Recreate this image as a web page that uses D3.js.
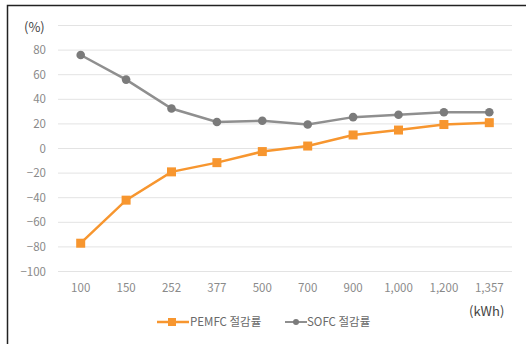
<!DOCTYPE html>
<html>
<head>
<meta charset="utf-8">
<script src="https://cdn.jsdelivr.net/npm/d3@7"></script>
<style>
  html, body { margin: 0; padding: 0; background: #fff; }
  svg { display: block; }
</style>
</head>
<body>
<script>
// Energy use categories (kWh) and saving rates (%) per fuel cell type
const categories = ["100", "150", "252", "377", "500", "700", "900", "1,000", "1,200", "1,357"];
const pemfcValues = [-77, -42, -19, -11.5, -2.5, 2, 11, 15, 19.5, 21];
const sofcValues = [76, 56, 32.5, 21.5, 22.5, 19.5, 25.5, 27.5, 29.5, 29.5];
const yTicks = [80, 60, 40, 20, 0, -20, -40, -60, -80, -100];
const seriesNames = ["PEMFC 절감률", "SOFC 절감률"];

const W = 526, H = 344;
const svg = d3.select("body").append("svg").attr("width", W).attr("height", H);
const font = "'Noto Sans CJK KR', 'Noto Sans', sans-serif";

// frame
svg.append("rect").attr("x", 7.5).attr("y", 5.5).attr("width", 540).attr("height", 360)
  .attr("fill", "none").attr("stroke", "#222").attr("stroke-width", 1.5);

const x = d3.scaleBand().domain(categories).range([58, 512]);
const y = d3.scaleLinear().domain([-100, 100]).range([271.5, 25.5]);

// horizontal grid
svg.append("g").selectAll("line").data(d3.range(-100, 101, 20)).join("line")
  .attr("x1", 58).attr("x2", 512)
  .attr("y1", d => y(d)).attr("y2", d => y(d))
  .attr("stroke", "#e3e3e3").attr("stroke-width", 1);

// y axis labels
const yAxis = d3.axisLeft(y).tickValues(yTicks).tickSize(0).tickPadding(0);
const gy = svg.append("g").attr("transform", "translate(46,0)").call(yAxis);
gy.select(".domain").remove();
gy.selectAll("text").attr("font-family", font).attr("font-size", 11.5).attr("fill", "#8a8a8a");

// x axis labels
const xAxis = d3.axisBottom(x).tickSize(0).tickPadding(0);
const gx = svg.append("g").attr("transform", "translate(0,284)").call(xAxis);
gx.select(".domain").remove();
gx.selectAll("text").attr("font-family", font).attr("font-size", 11.5).attr("fill", "#8a8a8a");

// unit labels
svg.append("text").attr("x", 24).attr("y", 32).text("(%)")
  .attr("font-family", font).attr("font-size", 13).attr("fill", "#444");
svg.append("text").attr("x", 469).attr("y", 316).text("(kWh)")
  .attr("font-family", font).attr("font-size", 13).attr("fill", "#444");

const cx = d => x(d) + x.bandwidth() / 2;
const line = d3.line().x((d, i) => cx(categories[i])).y(d => y(d));

const orange = "#f7962f", gray = "#8f8f8f", grayDot = "#7b7b7b";

// SOFC series
svg.append("path").datum(sofcValues).attr("d", line)
  .attr("fill", "none").attr("stroke", gray).attr("stroke-width", 2.5);
svg.append("g").selectAll("circle").data(sofcValues).join("circle")
  .attr("cx", (d, i) => cx(categories[i])).attr("cy", d => y(d)).attr("r", 4.3)
  .attr("fill", grayDot);

// PEMFC series
svg.append("path").datum(pemfcValues).attr("d", line)
  .attr("fill", "none").attr("stroke", orange).attr("stroke-width", 2.5);
svg.append("g").selectAll("rect").data(pemfcValues).join("rect")
  .attr("x", (d, i) => cx(categories[i]) - 4.5).attr("y", d => y(d) - 4.5)
  .attr("width", 9).attr("height", 9).attr("fill", orange);

// legend
const ly = 322;
const leg1 = svg.append("g");
leg1.append("line").attr("x1", 157).attr("x2", 189).attr("y1", ly).attr("y2", ly)
  .attr("stroke", orange).attr("stroke-width", 2.5);
leg1.append("rect").attr("x", 168).attr("y", ly - 4).attr("width", 8).attr("height", 8).attr("fill", orange);
leg1.append("text").attr("x", 190).attr("y", ly + 4).text(seriesNames[0])
  .attr("font-family", font).attr("font-size", 11.5).attr("fill", "#6a6a6a");

const leg2 = svg.append("g");
leg2.append("line").attr("x1", 285).attr("x2", 307).attr("y1", ly).attr("y2", ly)
  .attr("stroke", gray).attr("stroke-width", 2);
leg2.append("circle").attr("cx", 296).attr("cy", ly).attr("r", 3).attr("fill", grayDot);
leg2.append("text").attr("x", 307).attr("y", ly + 4).text(seriesNames[1])
  .attr("font-family", font).attr("font-size", 11.5).attr("fill", "#6a6a6a");
</script>
</body>
</html>
